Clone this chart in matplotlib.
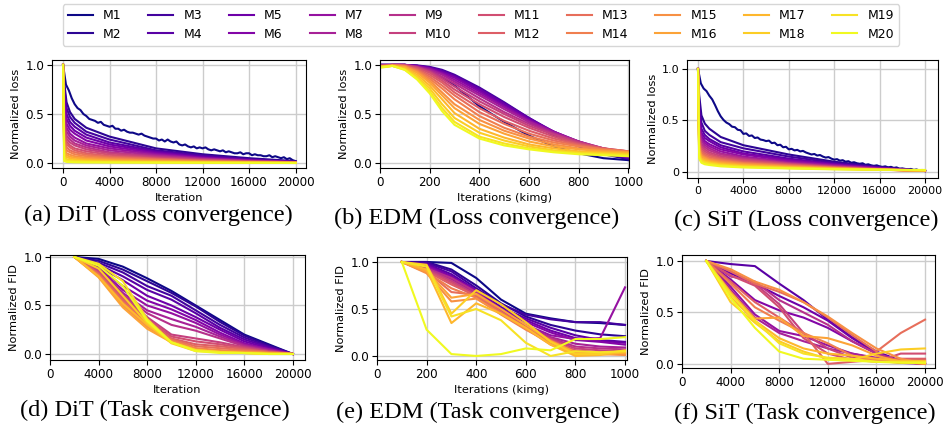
import numpy as np
import matplotlib
matplotlib.use("Agg")
import matplotlib.pyplot as plt

W, H = 945, 425
names = [f"M{i}" for i in range(1, 21)]
colors = plt.cm.plasma(np.linspace(0, 1, 20))

# ---------------- (a) DiT loss ----------------
dit_loss_x_m1 = list(range(0, 20001, 250))
dit_loss_m1 = [1.0, 0.8, 0.74, 0.66, 0.6, 0.56, 0.54, 0.5, 0.48, 0.45, 0.44, 0.43, 0.41, 0.42, 0.39, 0.38,
               0.37, 0.38, 0.35, 0.35, 0.33, 0.34, 0.32, 0.31, 0.31, 0.3, 0.29, 0.3, 0.28, 0.27, 0.26, 0.25,
               0.25, 0.23, 0.24, 0.22, 0.24, 0.22, 0.21, 0.22, 0.19, 0.18, 0.19, 0.17, 0.16, 0.17, 0.15, 0.16,
               0.15, 0.16, 0.14, 0.13, 0.14, 0.13, 0.12, 0.13, 0.11, 0.12, 0.11, 0.1, 0.1, 0.11, 0.09, 0.1,
               0.1, 0.08, 0.09, 0.08, 0.08, 0.07, 0.07, 0.08, 0.06, 0.07, 0.06, 0.05, 0.06, 0.04, 0.05, 0.03, 0.02]
dit_loss_x = [0, 100, 300, 600, 1000, 2000, 4000, 8000, 12000, 16000, 20000]
dit_loss = {
    "M2":  [1, 0.82, 0.62, 0.52, 0.45, 0.36, 0.27, 0.15, 0.09, 0.05, 0.02],
    "M3":  [1, 0.78, 0.56, 0.47, 0.41, 0.32, 0.24, 0.13, 0.08, 0.04, 0.015],
    "M4":  [1, 0.72, 0.5, 0.42, 0.37, 0.29, 0.21, 0.12, 0.07, 0.035, 0.012],
    "M5":  [1, 0.66, 0.45, 0.38, 0.33, 0.26, 0.19, 0.11, 0.06, 0.03, 0.01],
    "M6":  [1, 0.6, 0.4, 0.34, 0.3, 0.23, 0.17, 0.1, 0.055, 0.028, 0.01],
    "M7":  [1, 0.54, 0.36, 0.3, 0.26, 0.2, 0.15, 0.09, 0.05, 0.025, 0.01],
    "M8":  [1, 0.48, 0.32, 0.27, 0.23, 0.18, 0.13, 0.08, 0.045, 0.022, 0.008],
    "M9":  [1, 0.43, 0.28, 0.24, 0.2, 0.16, 0.11, 0.07, 0.04, 0.02, 0.008],
    "M10": [1, 0.38, 0.25, 0.21, 0.18, 0.14, 0.1, 0.06, 0.035, 0.018, 0.007],
    "M11": [1, 0.33, 0.22, 0.18, 0.15, 0.12, 0.085, 0.05, 0.03, 0.015, 0.006],
    "M12": [1, 0.28, 0.19, 0.16, 0.13, 0.1, 0.07, 0.045, 0.025, 0.013, 0.005],
    "M13": [1, 0.24, 0.16, 0.13, 0.11, 0.085, 0.06, 0.04, 0.022, 0.012, 0.005],
    "M14": [1, 0.2, 0.13, 0.11, 0.09, 0.07, 0.05, 0.032, 0.018, 0.01, 0.004],
    "M15": [1, 0.16, 0.1, 0.085, 0.07, 0.055, 0.04, 0.025, 0.015, 0.008, 0.003],
    "M16": [1, 0.12, 0.08, 0.065, 0.055, 0.042, 0.03, 0.02, 0.012, 0.006, 0.003],
    "M17": [1, 0.09, 0.06, 0.05, 0.04, 0.03, 0.022, 0.015, 0.009, 0.005, 0.002],
    "M18": [1, 0.06, 0.04, 0.033, 0.027, 0.02, 0.015, 0.01, 0.006, 0.004, 0.002],
    "M19": [1, 0.04, 0.025, 0.02, 0.017, 0.013, 0.01, 0.007, 0.004, 0.003, 0.001],
    "M20": [1, 0.02, 0.012, 0.01, 0.008, 0.006, 0.005, 0.004, 0.003, 0.002, 0.001],
}

# ---------------- (b) EDM loss ----------------
edm_loss_x = [0, 50, 100, 150, 200, 250, 300, 400, 500, 600, 700, 800, 900, 1000]
edm_loss = {
    "M1":  [1.0, 1.0, 1.0, 0.98, 0.94, 0.87, 0.79, 0.58, 0.42, 0.28, 0.17, 0.1, 0.05, 0.03],
    "M2":  [1.0, 1.0, 1.0, 0.99, 0.97, 0.93, 0.88, 0.74, 0.58, 0.42, 0.28, 0.17, 0.09, 0.04],
    "M3":  [1.0, 1.0, 1.0, 0.995, 0.98, 0.95, 0.9, 0.77, 0.62, 0.46, 0.31, 0.19, 0.1, 0.05],
    "M4":  [1.0, 1.0, 1.0, 0.99, 0.975, 0.94, 0.89, 0.76, 0.61, 0.46, 0.32, 0.2, 0.11, 0.05],
    "M5":  [1.0, 1.0, 1.0, 0.99, 0.97, 0.93, 0.88, 0.75, 0.6, 0.45, 0.32, 0.21, 0.12, 0.06],
    "M6":  [1.0, 1.0, 1.0, 0.99, 0.965, 0.92, 0.87, 0.73, 0.58, 0.44, 0.32, 0.22, 0.13, 0.07],
    "M7":  [0.99, 1.0, 1.0, 0.985, 0.96, 0.91, 0.85, 0.71, 0.57, 0.43, 0.32, 0.22, 0.14, 0.08],
    "M8":  [0.99, 1.0, 1.0, 0.98, 0.95, 0.9, 0.83, 0.69, 0.55, 0.42, 0.31, 0.22, 0.15, 0.09],
    "M9":  [0.99, 1.0, 1.0, 0.98, 0.94, 0.88, 0.81, 0.66, 0.52, 0.4, 0.3, 0.22, 0.15, 0.1],
    "M10": [0.99, 1.0, 1.0, 0.975, 0.93, 0.86, 0.78, 0.63, 0.5, 0.38, 0.29, 0.21, 0.15, 0.11],
    "M11": [0.99, 1.0, 0.995, 0.97, 0.92, 0.84, 0.75, 0.6, 0.47, 0.36, 0.27, 0.2, 0.15, 0.12],
    "M12": [0.99, 1.0, 0.99, 0.96, 0.9, 0.82, 0.72, 0.56, 0.43, 0.33, 0.25, 0.19, 0.15, 0.12],
    "M13": [0.98, 1.0, 0.99, 0.95, 0.88, 0.79, 0.69, 0.52, 0.4, 0.3, 0.23, 0.18, 0.14, 0.12],
    "M14": [0.98, 0.995, 0.99, 0.94, 0.86, 0.76, 0.65, 0.48, 0.36, 0.27, 0.21, 0.17, 0.14, 0.12],
    "M15": [0.98, 0.995, 0.98, 0.93, 0.84, 0.72, 0.6, 0.44, 0.33, 0.25, 0.19, 0.15, 0.13, 0.11],
    "M16": [0.98, 0.99, 0.98, 0.92, 0.82, 0.69, 0.56, 0.4, 0.3, 0.22, 0.17, 0.14, 0.12, 0.11],
    "M17": [0.98, 0.99, 0.97, 0.9, 0.79, 0.65, 0.51, 0.35, 0.26, 0.19, 0.15, 0.12, 0.11, 0.1],
    "M18": [0.98, 0.99, 0.96, 0.88, 0.76, 0.6, 0.46, 0.31, 0.23, 0.17, 0.13, 0.11, 0.1, 0.09],
    "M19": [0.98, 0.99, 0.95, 0.86, 0.73, 0.56, 0.42, 0.27, 0.2, 0.15, 0.12, 0.1, 0.09, 0.08],
    "M20": [0.97, 0.99, 0.95, 0.85, 0.71, 0.53, 0.39, 0.25, 0.18, 0.14, 0.11, 0.09, 0.08, 0.07],
}

# ---------------- (c) SiT loss ----------------
sit_loss_x_m1 = list(range(0, 20001, 250))
sit_loss_m1 = [1.0, 0.86, 0.81, 0.785, 0.74, 0.705, 0.65, 0.59,
               0.54, 0.505, 0.48, 0.465, 0.44, 0.435, 0.41, 0.405,
               0.37, 0.375, 0.35, 0.355, 0.33, 0.335, 0.315, 0.31,
               0.3, 0.305, 0.28, 0.285, 0.26, 0.265, 0.24, 0.245,
               0.22, 0.225, 0.21, 0.215, 0.2, 0.205, 0.19, 0.18,
               0.17, 0.175, 0.16, 0.165, 0.15, 0.14, 0.145, 0.13,
               0.12, 0.125, 0.11, 0.115, 0.1, 0.105, 0.09, 0.095,
               0.085, 0.08, 0.085, 0.07, 0.075, 0.065, 0.06, 0.065,
               0.055, 0.05, 0.055, 0.045, 0.05, 0.04, 0.045, 0.03,
               0.035, 0.03, 0.025, 0.03, 0.02, 0.025, 0.015, 0.02,
               0.01]
sit_loss_x = [0, 100, 300, 600, 1000, 2000, 4000, 8000, 12000, 16000, 20000]
sit_loss = {
    "M2":  [1, 0.75, 0.55, 0.47, 0.42, 0.34, 0.26, 0.17, 0.1, 0.05, 0.01],
    "M3":  [1, 0.68, 0.48, 0.4, 0.36, 0.29, 0.23, 0.15, 0.09, 0.045, 0.01],
    "M4":  [1, 0.6, 0.42, 0.36, 0.32, 0.26, 0.2, 0.13, 0.08, 0.04, 0.01],
    "M5":  [1, 0.55, 0.38, 0.33, 0.3, 0.24, 0.18, 0.12, 0.075, 0.04, 0.01],
    "M6":  [1, 0.5, 0.35, 0.3, 0.27, 0.22, 0.17, 0.11, 0.07, 0.035, 0.01],
    "M7":  [1, 0.46, 0.32, 0.28, 0.25, 0.2, 0.15, 0.1, 0.065, 0.035, 0.01],
    "M8":  [1, 0.42, 0.3, 0.26, 0.23, 0.18, 0.14, 0.09, 0.06, 0.03, 0.01],
    "M9":  [1, 0.38, 0.27, 0.24, 0.21, 0.17, 0.13, 0.085, 0.055, 0.03, 0.01],
    "M10": [1, 0.35, 0.25, 0.22, 0.19, 0.155, 0.12, 0.08, 0.05, 0.028, 0.01],
    "M11": [1, 0.32, 0.23, 0.2, 0.175, 0.14, 0.11, 0.075, 0.048, 0.026, 0.01],
    "M12": [1, 0.29, 0.21, 0.18, 0.16, 0.13, 0.1, 0.07, 0.045, 0.025, 0.01],
    "M13": [1, 0.27, 0.19, 0.165, 0.145, 0.12, 0.09, 0.065, 0.042, 0.024, 0.012],
    "M14": [1, 0.25, 0.17, 0.15, 0.13, 0.11, 0.085, 0.06, 0.04, 0.023, 0.012],
    "M15": [1, 0.23, 0.16, 0.14, 0.12, 0.1, 0.078, 0.055, 0.038, 0.022, 0.013],
    "M16": [1, 0.21, 0.15, 0.13, 0.11, 0.09, 0.07, 0.05, 0.035, 0.022, 0.014],
    "M17": [1, 0.19, 0.13, 0.115, 0.1, 0.08, 0.063, 0.046, 0.033, 0.022, 0.015],
    "M18": [1, 0.17, 0.12, 0.1, 0.09, 0.072, 0.056, 0.042, 0.03, 0.022, 0.016],
    "M19": [1, 0.15, 0.105, 0.09, 0.08, 0.064, 0.05, 0.038, 0.028, 0.022, 0.018],
    "M20": [1, 0.13, 0.09, 0.075, 0.068, 0.055, 0.044, 0.034, 0.026, 0.022, 0.02],
}

# ---------------- (d) DiT task ----------------
dit_task_x = [2000, 4000, 6000, 8000, 10000, 12000, 14000, 16000, 18000, 20000]
dit_task = {
    "M1":  [1, 0.98, 0.9, 0.78, 0.65, 0.5, 0.35, 0.2, 0.1, 0.0],
    "M2":  [1, 0.96, 0.87, 0.75, 0.63, 0.49, 0.33, 0.19, 0.09, 0.0],
    "M3":  [1, 0.94, 0.84, 0.7, 0.6, 0.45, 0.3, 0.17, 0.08, 0.0],
    "M4":  [1, 0.92, 0.8, 0.66, 0.56, 0.42, 0.27, 0.15, 0.07, 0.0],
    "M5":  [1, 0.9, 0.76, 0.6, 0.5, 0.38, 0.25, 0.13, 0.06, 0.0],
    "M6":  [1, 0.89, 0.7, 0.55, 0.46, 0.35, 0.22, 0.11, 0.05, 0.0],
    "M7":  [1, 0.88, 0.66, 0.5, 0.42, 0.32, 0.2, 0.1, 0.05, 0.0],
    "M8":  [1, 0.87, 0.63, 0.45, 0.36, 0.28, 0.18, 0.09, 0.04, 0.0],
    "M9":  [1, 0.86, 0.61, 0.42, 0.3, 0.24, 0.16, 0.08, 0.03, 0.0],
    "M10": [1, 0.85, 0.6, 0.38, 0.2, 0.16, 0.12, 0.07, 0.03, 0.0],
    "M11": [1, 0.84, 0.58, 0.36, 0.18, 0.13, 0.1, 0.06, 0.02, 0.0],
    "M12": [1, 0.83, 0.56, 0.34, 0.16, 0.1, 0.08, 0.05, 0.02, 0.0],
    "M13": [1, 0.82, 0.54, 0.32, 0.15, 0.08, 0.06, 0.04, 0.02, 0.0],
    "M14": [1, 0.81, 0.52, 0.3, 0.14, 0.06, 0.04, 0.03, 0.01, 0.0],
    "M15": [1, 0.8, 0.5, 0.28, 0.13, 0.05, 0.03, 0.02, 0.01, 0.0],
    "M16": [1, 0.79, 0.48, 0.26, 0.12, 0.04, 0.02, 0.02, 0.01, 0.0],
    "M17": [1, 0.8, 0.52, 0.3, 0.12, 0.04, 0.02, 0.01, 0.01, 0.0],
    "M18": [1, 0.88, 0.6, 0.32, 0.11, 0.03, 0.02, 0.01, 0.0, 0.0],
    "M19": [1, 0.93, 0.75, 0.36, 0.12, 0.04, 0.02, 0.01, 0.0, 0.0],
    "M20": [1, 0.91, 0.7, 0.34, 0.12, 0.03, 0.01, 0.01, 0.0, 0.0],
}

# ---------------- (e) EDM task ----------------
edm_task_x = [100, 200, 300, 400, 500, 600, 700, 800, 900, 1000]
edm_task = {
    "M1":  [1, 1.0, 0.99, 0.83, 0.6, 0.45, 0.4, 0.36, 0.35, 0.33],
    "M2":  [1, 1.0, 0.92, 0.75, 0.56, 0.42, 0.33, 0.27, 0.23, 0.21],
    "M3":  [1, 0.99, 0.9, 0.72, 0.55, 0.44, 0.39, 0.36, 0.36, 0.33],
    "M4":  [1, 0.98, 0.87, 0.7, 0.52, 0.4, 0.3, 0.22, 0.17, 0.15],
    "M5":  [1, 0.97, 0.85, 0.68, 0.5, 0.38, 0.27, 0.19, 0.16, 0.14],
    "M6":  [1, 0.96, 0.84, 0.7, 0.5, 0.36, 0.25, 0.17, 0.15, 0.12],
    "M7":  [1, 0.95, 0.82, 0.67, 0.48, 0.33, 0.22, 0.18, 0.19, 0.73],
    "M8":  [1, 0.94, 0.8, 0.66, 0.47, 0.32, 0.2, 0.13, 0.1, 0.09],
    "M9":  [1, 0.93, 0.83, 0.68, 0.48, 0.31, 0.19, 0.1, 0.08, 0.07],
    "M10": [1, 0.92, 0.8, 0.65, 0.46, 0.3, 0.18, 0.08, 0.06, 0.05],
    "M11": [1, 0.91, 0.78, 0.63, 0.45, 0.29, 0.16, 0.06, 0.04, 0.04],
    "M12": [1, 0.9, 0.76, 0.64, 0.46, 0.3, 0.17, 0.05, 0.03, 0.03],
    "M13": [1, 0.9, 0.68, 0.65, 0.47, 0.3, 0.15, 0.04, 0.02, 0.02],
    "M14": [1, 0.89, 0.72, 0.62, 0.44, 0.28, 0.14, 0.03, 0.03, 0.02],
    "M15": [1, 0.88, 0.58, 0.61, 0.45, 0.29, 0.12, 0.02, 0.02, 0.01],
    "M16": [1, 0.9, 0.62, 0.66, 0.5, 0.33, 0.16, 0.04, 0.03, 0.03],
    "M17": [1, 0.92, 0.35, 0.56, 0.45, 0.3, 0.12, 0.0, 0.01, 0.04],
    "M18": [1, 0.97, 0.45, 0.7, 0.55, 0.36, 0.15, 0.02, 0.02, 0.06],
    "M19": [1, 0.95, 0.42, 0.5, 0.38, 0.14, 0.0, 0.05, 0.04, 0.05],
    "M20": [1, 0.28, 0.02, 0.0, 0.02, 0.08, 0.06, 0.18, 0.18, 0.2],
}

# ---------------- (f) SiT task ----------------
sit_task_x = [2000, 4000, 6000, 8000, 10000, 12000, 14000, 16000, 18000, 20000]
sit_task = {
    "M4":  [1, 0.97, 0.95, 0.78, 0.62, 0.43, 0.26, 0.12, 0.03, 0.0],
    "M5":  [1, 0.88, 0.78, 0.66, 0.55, 0.42, 0.25, 0.11, 0.02, 0.0],
    "M6":  [1, 0.82, 0.62, 0.52, 0.45, 0.35, 0.22, 0.1, 0.02, 0.0],
    "M7":  [1, 0.75, 0.48, 0.32, 0.27, 0.18, 0.1, 0.05, 0.01, 0.0],
    "M8":  [1, 0.72, 0.45, 0.3, 0.22, 0.15, 0.1, 0.06, 0.02, 0.02],
    "M9":  [1, 0.85, 0.8, 0.62, 0.5, 0.38, 0.22, 0.1, 0.03, 0.04],
    "M10": [1, 0.9, 0.78, 0.58, 0.3, 0.15, 0.06, 0.03, 0.01, 0.02],
    "M11": [1, 0.86, 0.76, 0.55, 0.25, 0.1, 0.04, 0.02, 0.1, 0.1],
    "M12": [1, 0.8, 0.6, 0.45, 0.3, 0.0, 0.02, 0.04, 0.05, 0.05],
    "M13": [1, 0.9, 0.78, 0.7, 0.6, 0.45, 0.28, 0.12, 0.3, 0.43],
    "M14": [1, 0.78, 0.55, 0.42, 0.3, 0.2, 0.08, 0.03, 0.02, 0.0],
    "M15": [1, 0.92, 0.8, 0.72, 0.6, 0.46, 0.3, 0.15, 0.05, 0.0],
    "M16": [1, 0.7, 0.44, 0.45, 0.27, 0.25, 0.18, 0.08, 0.02, 0.0],
    "M17": [1, 0.65, 0.42, 0.25, 0.15, 0.1, 0.08, 0.05, 0.03, 0.03],
    "M18": [1, 0.6, 0.4, 0.22, 0.12, 0.05, 0.04, 0.1, 0.14, 0.15],
    "M19": [1, 0.68, 0.42, 0.2, 0.1, 0.06, 0.05, 0.02, 0.02, 0.02],
    "M20": [1, 0.64, 0.35, 0.12, 0.05, 0.04, 0.03, 0.02, 0.01, 0.01],
}

captions = ["(a) DiT (Loss convergence)", "(b) EDM (Loss convergence)", "(c) SiT (Loss convergence)",
            "(d) DiT (Task convergence)", "(e) EDM (Task convergence)", "(f) SiT (Task convergence)"]

# ---------------- drawing ----------------
fig = plt.figure(figsize=(W / 100, H / 100), dpi=100)
TICK_FS = 8.6
LAB_FS = 8.2
LW = 1.5


def add_ax(l, t, r, b):
    return fig.add_axes([l / W, 1 - b / H, (r - l) / W, (b - t) / H])


def style(ax, xlim, ylim, xticks, xlabel, ylabel, yticklabels=None, tick_fs=TICK_FS):
    ax.set_xlim(*xlim)
    ax.set_ylim(*ylim)
    ax.set_xticks(xticks)
    ax.set_yticks([0, 0.5, 1.0])
    if yticklabels is not None:
        ax.set_yticklabels(yticklabels)
    ax.grid(True, color="#cccccc", lw=1.0)
    ax.set_axisbelow(True)
    ax.tick_params(labelsize=tick_fs, length=3.5, pad=2)
    if xlabel:
        ax.set_xlabel(xlabel, fontsize=LAB_FS, labelpad=3)
    ax.set_ylabel(ylabel, fontsize=LAB_FS, labelpad=3)


def plot_series(ax, x, table, extra=None):
    handles = {}
    for i, name in enumerate(names):
        if extra is not None and name in extra:
            xx, yy = extra[name]
        elif name in table:
            xx, yy = x, table[name]
        else:
            continue
        h, = ax.plot(xx, yy, color=colors[i], lw=LW, label=name)
        handles[name] = h
    return handles

# (a)
ax_a = add_ax(52, 60, 306, 168)
hand = plot_series(ax_a, dit_loss_x, dit_loss, extra={"M1": (dit_loss_x_m1, dit_loss_m1)})
style(ax_a, (-950, 20900), (-0.05, 1.05), range(0, 20001, 4000), "Iteration", "Normalized loss")

# (b)
ax_b = add_ax(380, 60, 629, 168)
plot_series(ax_b, edm_loss_x, edm_loss)
style(ax_b, (0, 1003), (-0.05, 1.05), range(0, 1001, 200), "Iterations (kimg)", "Normalized loss")

# (c)
ax_c = add_ax(687, 60, 938, 178)
plot_series(ax_c, sit_loss_x, sit_loss, extra={"M1": (sit_loss_x_m1, sit_loss_m1)})
style(ax_c, (-970, 21145), (-0.058, 1.087), range(0, 20001, 4000), None, "Normalized loss",
      yticklabels=["0", "0.5", "1.0"], tick_fs=8.0)

# (d)
ax_d = add_ax(50, 255, 305, 360)
plot_series(ax_d, dit_task_x, dit_task)
style(ax_d, (0, 21000), (-0.062, 1.02), range(0, 20001, 4000), "Iteration", "Normalized FID")

# (e)
ax_e = add_ax(377, 257, 627, 360)
plot_series(ax_e, edm_task_x, edm_task)
style(ax_e, (0, 1008), (-0.043, 1.053), range(0, 1001, 200), "Iterations (kimg)", "Normalized FID")

# (f)
ax_f = add_ax(682, 255, 935, 368)
plot_series(ax_f, sit_task_x, sit_task)
style(ax_f, (0, 20820), (-0.04, 1.058), range(0, 20001, 4000), None, "Normalized FID")

# captions
cap_pos = [(158, 215), (477, 218), (806, 220), (155, 410), (478, 412), (805, 413)]
for (cx, cy), txt in zip(cap_pos, captions):
    fig.text(cx / W, 1 - cy / H, txt, ha="center", va="center",
             family=["Liberation Serif", "DejaVu Serif"], fontsize=17.5)

# legend
fig.legend([hand[n] for n in names], names, loc="upper center", ncol=10,
           bbox_to_anchor=(481 / W, 1 - 4 / H), fontsize=9, labelspacing=0.45,
           handlelength=2.0, handletextpad=0.8, columnspacing=2.15, borderaxespad=0,
           frameon=True)

fig.savefig("out.png", dpi=100)
